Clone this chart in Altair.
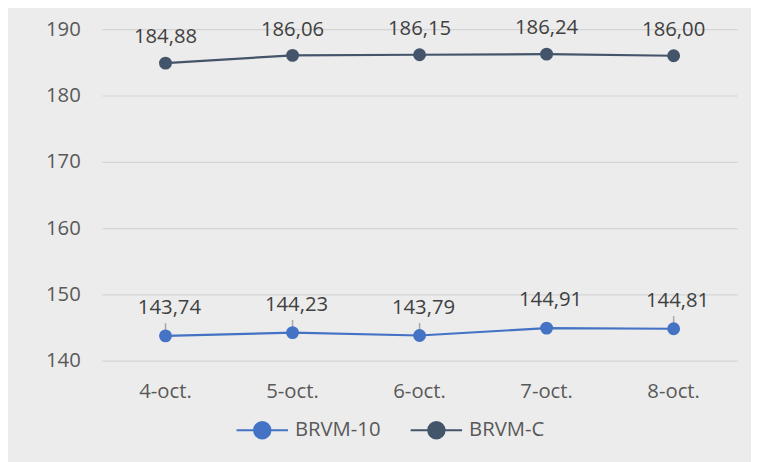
import altair as alt
import pandas as pd

dates = ["4-oct.", "5-oct.", "6-oct.", "7-oct.", "8-oct."]
brvm10 = [143.74, 144.23, 143.79, 144.91, 144.81]
brvmc = [184.88, 186.06, 186.15, 186.24, 186.00]
series = ["BRVM-10", "BRVM-C"]
colors = ["#4472C4", "#44546A"]
y_ticks = [140, 150, 160, 170, 180, 190]

rows = []
for name, vals in zip(series, [brvm10, brvmc]):
    for d, v in zip(dates, vals):
        rows.append({"date": d, "value": v, "series": name,
                     "label": f"{v:.2f}".replace(".", ",")})
df = pd.DataFrame(rows)

FONT = "Open Sans"
FS = 20.5

xscale = alt.Scale(type="band", domain=dates, paddingInner=0, paddingOuter=0)
x = alt.X("date:N", sort=dates, title=None, scale=xscale,
          axis=alt.Axis(labelAngle=0, labelFontSize=FS, labelColor="#595959",
                        labelFont=FONT, ticks=False, domain=False, labelPadding=21,
                        grid=False))
y = alt.Y("value:Q", title=None,
          scale=alt.Scale(domain=[140, 190], nice=False, zero=False),
          axis=alt.Axis(values=y_ticks, labelFontSize=FS, labelColor="#595959",
                        labelFont=FONT, ticks=False, domain=False, labelPadding=22,
                        gridColor="#d4d4d4", gridWidth=1.2))

legend_path = ("M-1,0 L1,0 M-0.32,0 A0.32,0.32 0 1,1 0.32,0 "
               "A0.32,0.32 0 1,1 -0.32,0 Z")
color = alt.Color("series:N", sort=series,
                  scale=alt.Scale(domain=series, range=colors),
                  legend=alt.Legend(title=None, orient="none", direction="horizontal",
                                    legendX=135, legendY=378,
                                    symbolType=legend_path, symbolSize=2700,
                                    symbolStrokeWidth=2, labelFontSize=FS,
                                    labelFont=FONT, labelColor="#595959",
                                    labelOffset=6, columnPadding=26,
                                    symbolOpacity=1))

base = alt.Chart(df)

lines = base.mark_line(strokeWidth=2.2).encode(x=x, y=y, color=color)
points = base.mark_point(filled=True, size=170, opacity=1).encode(
    x=x, y=y, color=alt.Color("series:N", sort=series,
                              scale=alt.Scale(domain=series, range=colors),
                              legend=None))

leaders = base.transform_filter(
    (alt.datum.series == "BRVM-10") & (alt.datum.date != "7-oct.")
).transform_calculate(
    y1="datum.value + 0.45", y2="datum.value + 1.9"
).mark_rule(color="#a6a6a6", strokeWidth=1.5).encode(
    x=x, y="y1:Q", y2="y2:Q")

labels_c = base.transform_filter(alt.datum.series == "BRVM-C").mark_text(
    fontSize=FS, font=FONT, color="#404040", dy=-26, baseline="middle"
).encode(x=x, y=y, text="label:N")

labels_10 = base.transform_filter(alt.datum.series == "BRVM-10").mark_text(
    fontSize=FS, font=FONT, color="#404040", dy=-28, dx=4, baseline="middle"
).encode(x=x, y=y, text="label:N")

chart = alt.layer(lines, leaders, points, labels_c, labels_10).properties(
    width=642, height=335,
    padding={"left": 95, "top": 19, "right": 14, "bottom": 100},
    autosize=alt.AutoSizeParams(type="none"),
    background="#ececec",
).configure_view(stroke=None)

chart.save("out.html", embed_options={"renderer": "svg", "actions": False})
